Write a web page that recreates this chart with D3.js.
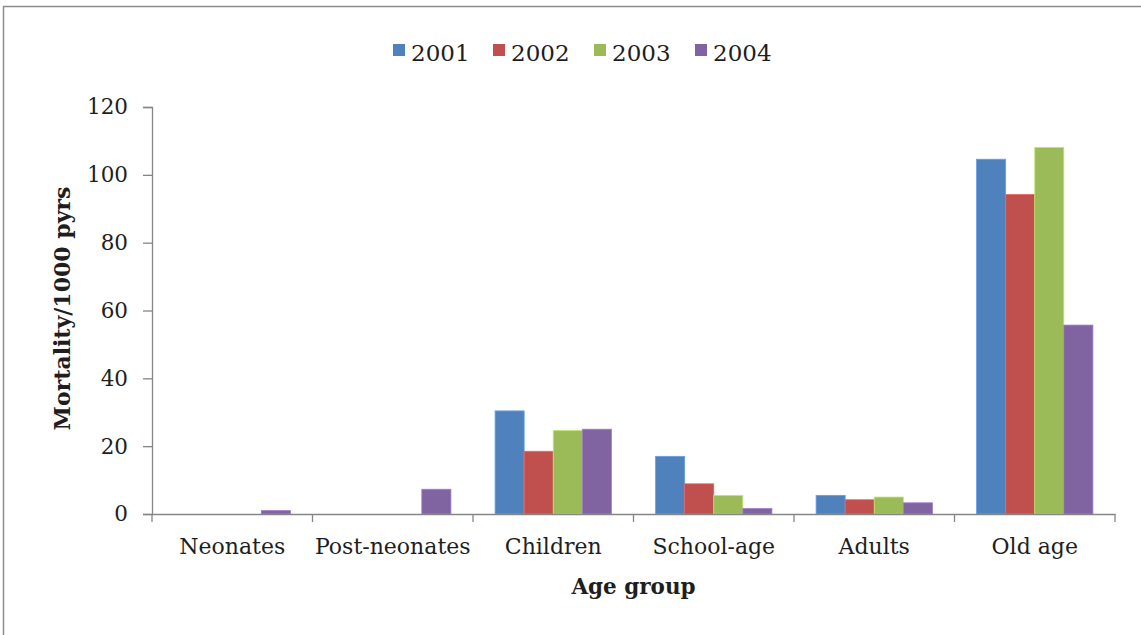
<!DOCTYPE html>
<html>
<head>
<meta charset="utf-8">
<script src="https://cdn.jsdelivr.net/npm/d3@7"></script>
<style>
  html, body { margin: 0; padding: 0; background: #fff; }
  svg { display: block; }
  text { font-family: "DejaVu Serif", serif; fill: #1e1e1e; }
</style>
</head>
<body>
<svg id="chart" width="1141" height="635"></svg>
<script>
// Mortality per 1000 person-years by age group and year
const categories = ["Neonates", "Post-neonates", "Children", "School-age", "Adults", "Old age"];
const years = ["2001", "2002", "2003", "2004"];
const values2001 = [0, 0, 30.4, 17.0, 5.5, 104.6];
const values2002 = [0, 0, 18.5, 8.9, 4.2, 94.2];
const values2003 = [0, 0, 24.6, 5.5, 5.0, 108.1];
const values2004 = [1.0, 7.3, 25.0, 1.6, 3.3, 55.7];
const yTicks = [0, 20, 40, 60, 80, 100, 120];
const colors = ["#4f81bd", "#c0504d", "#9bbb59", "#8064a2"];

const seriesValues = [values2001, values2002, values2003, values2004];

const svg = d3.select("#chart");
const margin = { left: 152, right: 1115, top: 107, bottom: 514 };

// outer frame
svg.append("rect")
  .attr("x", 3.5).attr("y", 6.5)
  .attr("width", 1145).attr("height", 640)
  .attr("fill", "none").attr("stroke", "#8c8c8c").attr("stroke-width", 1.5);

const x0 = d3.scaleBand().domain(categories).range([margin.left, margin.right]).paddingInner(0).paddingOuter(0);
// bars fill the category with a 150% gap split across both sides
const x1 = d3.scaleBand().domain(years).range([0, x0.bandwidth()]).paddingInner(0).paddingOuter(0.76);
const y = d3.scaleLinear().domain([0, 120]).range([margin.bottom, margin.top]);

// bars
const groups = svg.append("g").selectAll("g")
  .data(categories)
  .join("g")
  .attr("transform", d => `translate(${x0(d)},0)`);

groups.selectAll("rect")
  .data((c, i) => years.map((yr, k) => ({ yr, k, v: seriesValues[k][i] })))
  .join("rect")
  .attr("x", d => x1(d.yr))
  .attr("width", x1.bandwidth())
  .attr("y", d => y(d.v))
  .attr("height", d => y(0) - y(d.v))
  .attr("fill", d => colors[d.k])
  .attr("stroke", d => d3.color(colors[d.k]).brighter(0.6))
  .attr("stroke-width", d => d.v > 0 ? 0.8 : 0);

const axisColor = "#868686";

// y axis
const yAxis = svg.append("g")
  .attr("transform", `translate(${margin.left},0)`)
  .call(d3.axisLeft(y).tickValues(yTicks).tickSize(9).tickPadding(15));
yAxis.select(".domain").attr("stroke", axisColor).attr("stroke-width", 1.3);
yAxis.selectAll(".tick line").attr("stroke", axisColor).attr("stroke-width", 1.3);
yAxis.selectAll(".tick text")
  .attr("font-family", "DejaVu Serif").attr("font-size", 21.5).attr("fill", "#1e1e1e");

// x axis
const xAxis = svg.append("g")
  .attr("transform", `translate(0,${margin.bottom})`)
  .call(d3.axisBottom(x0).tickSize(0).tickPadding(24));
xAxis.select(".domain").attr("stroke", axisColor).attr("stroke-width", 1.3);
xAxis.selectAll(".tick text")
  .attr("font-family", "DejaVu Serif").attr("font-size", 22).attr("fill", "#1e1e1e");

// category boundary ticks
const boundaries = categories.map(c => x0(c)).concat([margin.right]);
svg.append("g").selectAll("line")
  .data(boundaries)
  .join("line")
  .attr("x1", d => d).attr("x2", d => d)
  .attr("y1", margin.bottom).attr("y2", margin.bottom + 8)
  .attr("stroke", axisColor).attr("stroke-width", 1.3);

// axis titles
svg.append("text")
  .attr("x", (margin.left + margin.right) / 2)
  .attr("y", 594)
  .attr("text-anchor", "middle")
  .attr("font-size", 21.5).attr("font-weight", "bold")
  .text("Age group");

svg.append("text")
  .attr("transform", `translate(70,${(margin.top + margin.bottom) / 2 - 2}) rotate(-90)`)
  .attr("text-anchor", "middle")
  .attr("font-size", 22).attr("font-weight", "bold")
  .text("Mortality/1000 pyrs");

// legend
const legendX = [393, 493, 594, 695];
const legend = svg.append("g").selectAll("g")
  .data(years)
  .join("g")
  .attr("transform", (d, i) => `translate(${legendX[i]},44)`);
legend.append("rect")
  .attr("width", 12).attr("height", 12)
  .attr("fill", (d, i) => colors[i]);
legend.append("text")
  .attr("x", 18).attr("y", 17)
  .attr("font-size", 23)
  .text(d => d);
</script>
</body>
</html>
